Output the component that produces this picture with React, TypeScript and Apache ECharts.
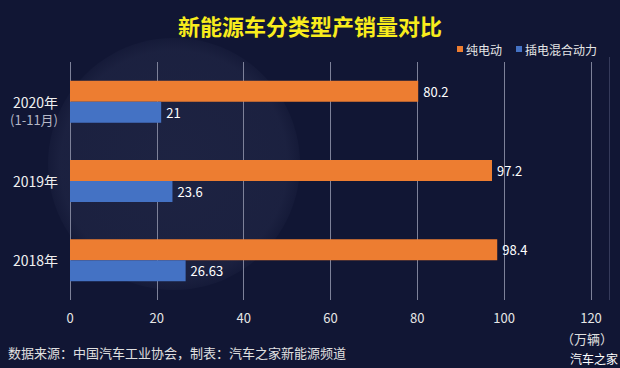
import React, { useEffect, useRef } from "react";
import * as echarts from "echarts";

const categories = ["2020年", "2019年", "2018年"];
const bevValues = [80.2, 97.2, 98.4];
const phevValues = [21, 23.6, 26.63];
const seriesNames = ["纯电动", "插电混合动力"];
const xTicks = { min: 0, max: 120, interval: 20 };
const titleText = "新能源车分类型产销量对比";
const sourceText = "数据来源：中国汽车工业协会，制表：汽车之家新能源频道";
const unitText = "（万辆）";
const logoText = "汽车之家";
const subLabel = "(1-11月)";

const FONT = "'Noto Sans CJK SC', 'Noto Sans', sans-serif";

export default function App() {
  const ref = useRef<HTMLDivElement>(null);
  useEffect(() => {
    if (!ref.current) return;
    const chart = echarts.init(ref.current, null, { renderer: "svg" });
    chart.setOption({
      animation: false,
      backgroundColor: "#111634",
      textStyle: { fontFamily: FONT },
      title: {
        text: titleText,
        left: "center",
        top: 9,
        textStyle: { color: "#f8ec1c", fontSize: 22, fontWeight: "bold", fontFamily: FONT },
      },
      legend: {
        data: seriesNames,
        right: 18,
        top: 38,
        itemWidth: 6,
        itemHeight: 6,
        itemGap: 14,
        icon: "rect",
        textStyle: { color: "#e6e6e6", fontSize: 12, fontFamily: FONT, padding: [0, 0, 0, -2] },
      },
      graphic: [
        {
          type: "circle",
          z: -10,
          silent: true,
          shape: { cx: 174, cy: 164, r: 126 },
          style: {
            fill: new echarts.graphic.RadialGradient(0.5, 0.5, 0.5, [
              { offset: 0, color: "rgba(120,130,170,0.12)" },
              { offset: 0.9, color: "rgba(120,130,170,0.1)" },
              { offset: 1, color: "rgba(120,130,170,0.04)" },
            ]),
          },
        },
        {
          type: "line",
          silent: true,
          shape: { x1: 609.5, y1: 57, x2: 609.5, y2: 300 },
          style: { stroke: "#353a5a", lineWidth: 1 },
        },
        {
          type: "text",
          left: 8,
          top: 346,
          style: { text: sourceText, fill: "#e0e0e0", fontSize: 13, fontFamily: FONT },
        },
        {
          type: "text",
          x: 613,
          y: 338,
          style: {
            text: unitText,
            fill: "#e0e0e0",
            fontSize: 13,
            fontFamily: FONT,
            align: "right",
            verticalAlign: "middle",
          },
        },
        {
          type: "text",
          x: 618,
          y: 358,
          style: {
            text: logoText,
            fill: "#ffffff",
            fontSize: 12,
            fontFamily: FONT,
            align: "right",
            verticalAlign: "middle",
          },
        },
      ],
      grid: { left: 70, right: 29, top: 62, bottom: 68, containLabel: false, outerBoundsMode: "none" },
      xAxis: {
        type: "value",
        min: xTicks.min,
        max: xTicks.max,
        interval: xTicks.interval,
        axisLine: { show: false },
        axisTick: { show: false },
        splitLine: { show: true, lineStyle: { color: "#7d8199", width: 1 } },
        axisLabel: { color: "#e6e6e6", fontSize: 13, margin: 11, fontFamily: FONT },
      },
      yAxis: {
        type: "category",
        data: categories,
        inverse: true,
        axisLine: { show: false },
        axisTick: { show: false },
        axisLabel: {
          margin: 12,
          fontFamily: FONT,
          formatter: (v: string) =>
            v === categories[0] ? `{s| }\n{a|${v}}\n{b|${subLabel}}` : `{a|${v}}`,
          rich: {
            s: { fontSize: 13, lineHeight: 18 },
            a: { color: "#f0f0f0", fontSize: 14, lineHeight: 18, fontFamily: FONT, align: "right" },
            b: { color: "#b5b8c6", fontSize: 13, lineHeight: 18, fontFamily: FONT, align: "right" },
          },
        },
      },
      series: [
        {
          name: seriesNames[0],
          type: "bar",
          data: bevValues,
          barWidth: 21,
          barGap: "0%",
          itemStyle: { color: "#ed7d31" },
          label: { show: true, position: "right", distance: 5, color: "#ffffff", fontSize: 13, fontFamily: FONT },
        },
        {
          name: seriesNames[1],
          type: "bar",
          data: phevValues,
          barWidth: 21,
          barGap: "0%",
          itemStyle: { color: "#4472c4" },
          label: { show: true, position: "right", distance: 5, color: "#ffffff", fontSize: 13, fontFamily: FONT },
        },
      ],
    });
    return () => chart.dispose();
  }, []);
  return <div ref={ref} style={{ width: 620, height: 368, position: "fixed", left: 0, top: 0 }} />;
}
